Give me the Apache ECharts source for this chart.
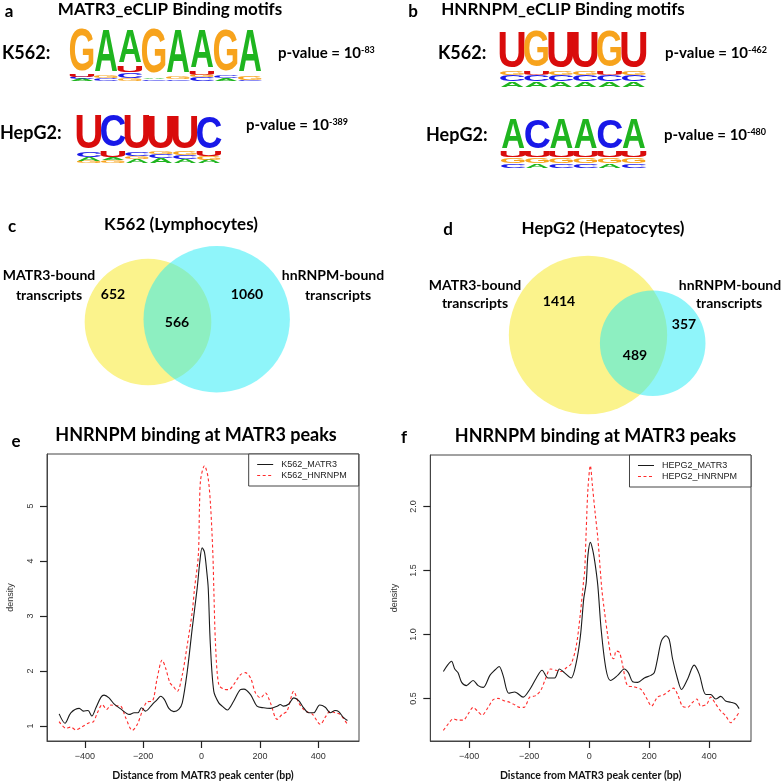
<!DOCTYPE html>
<html><head><meta charset="utf-8">
<script src="https://cdn.jsdelivr.net/npm/echarts@6/dist/echarts.min.js"></script>
<style>html,body{margin:0;padding:0;background:#fff}#c{width:782px;height:782px}</style>
</head><body><div id="c"></div><script>
// ---------- DATA ----------
// Sequence logos: each position = stack of [letter, height in bits], bottom to top
const motifMatr3K562 = [
  [['A',0.08],['C',0.08],['U',0.08],['G',1.76]],
  [['C',0.10],['G',0.13],['A',1.71]],
  [['G',0.10],['C',0.245],['U',0.27],['A',1.33]],
  [['C',0.06],['A',0.06],['G',1.88]],
  [['C',0.06],['G',0.10],['A',1.80]],
  [['C',0.14],['G',0.10],['U',0.135],['A',1.54]],
  [['A',0.10],['C',0.12],['G',1.74]],
  [['C',0.04],['G',0.15],['A',1.755]]
];
const motifMatr3HepG2 = [
  [['G',0.09],['A',0.17],['C',0.21],['U',1.47]],
  [['G',0.13],['A',0.13],['U',0.30],['C',1.38]],
  [['A',0.17],['G',0.13],['C',0.17],['U',1.47]],
  [['A',0.20],['C',0.17],['G',0.13],['U',1.42]],
  [['A',0.18],['C',0.17],['G',0.15],['U',1.42]],
  [['A',0.15],['G',0.15],['U',0.20],['C',1.42]]
];
const motifHnrnpmK562 = [
  [['A',0.20],['C',0.25],['G',0.15],['U',1.36]],
  [['A',0.20],['C',0.25],['U',0.15],['G',1.36]],
  [['A',0.20],['C',0.25],['G',0.15],['U',1.36]],
  [['A',0.20],['C',0.25],['G',0.15],['U',1.36]],
  [['A',0.20],['C',0.25],['U',0.15],['G',1.36]],
  [['A',0.20],['C',0.25],['G',0.15],['U',1.36]]
];
const motifHnrnpmHepG2 = [
  [['C',0.185],['G',0.245],['U',0.28],['A',1.29]],
  [['A',0.185],['G',0.245],['U',0.28],['C',1.29]],
  [['C',0.185],['G',0.245],['U',0.28],['A',1.29]],
  [['C',0.185],['G',0.245],['U',0.28],['A',1.29]],
  [['A',0.185],['G',0.245],['U',0.28],['C',1.29]],
  [['C',0.185],['G',0.245],['U',0.28],['A',1.29]]
];
const pvalExp = ['-83', '-389', '-462', '-480'];

// Venn counts: [MATR3 only, both, hnRNPM only]
const vennK562 = [652, 566, 1060];
const vennHepG2 = [1414, 489, 357];

// Density profiles [distance bp, density]
const k562Matr3 = [[-488,1.22],[-468,1.05],[-448,1.24],[-419,1.32],[-405,1.27],[-389,1.28],[-376,1.18],[-362,1.33],[-345,1.52],[-334,1.56],[-317,1.51],[-300,1.40],[-277,1.31],[-248,1.21],[-231,1.24],[-218,1.24],[-206,1.33],[-192,1.27],[-169,1.39],[-152,1.48],[-140,1.54],[-127,1.48],[-112,1.32],[-95,1.26],[-78,1.30],[-66,1.42],[-49,1.99],[-32,2.77],[-15,3.50],[-6,3.98],[2,4.24],[10,4.16],[18,3.80],[23,3.50],[30,2.50],[42,1.63],[59,1.42],[71,1.36],[88,1.29],[110,1.45],[133,1.66],[145,1.67],[168,1.57],[190,1.36],[213,1.33],[236,1.32],[259,1.36],[270,1.39],[281,1.36],[299,1.40],[316,1.51],[333,1.46],[350,1.33],[367,1.24],[384,1.24],[405,1.38],[424,1.34],[441,1.24],[458,1.28],[470,1.26],[487,1.15],[500,1.10]];
const k562Hnrnpm = [[-488,1.08],[-465,0.96],[-448,0.98],[-431,0.93],[-408,0.99],[-385,1.06],[-370,1.08],[-357,1.24],[-340,1.39],[-325,1.30],[-311,1.38],[-294,1.37],[-277,1.36],[-260,1.15],[-237,0.92],[-220,1.03],[-203,1.27],[-186,1.44],[-169,1.45],[-152,1.87],[-135,2.20],[-123,2.05],[-108,1.78],[-97,1.72],[-83,1.63],[-66,1.93],[-49,2.47],[-32,3.07],[-24,3.50],[-11,4.10],[-7,5.00],[-3,5.48],[10,5.73],[22,5.53],[31,5.00],[39,4.10],[42,3.50],[48,2.47],[59,1.75],[76,1.67],[93,1.66],[110,1.75],[133,1.93],[150,1.97],[168,1.87],[185,1.60],[202,1.51],[219,1.60],[236,1.42],[259,1.12],[276,1.21],[293,1.27],[316,1.63],[333,1.42],[356,1.27],[379,1.22],[407,1.03],[424,1.16],[441,1.27],[458,1.24],[475,1.21],[500,1.03]];
const hepg2Matr3 = [[-486,0.71],[-472,0.76],[-459,0.79],[-448,0.73],[-437,0.70],[-425,0.625],[-409,0.60],[-387,0.64],[-370,0.60],[-353,0.586],[-331,0.68],[-315,0.72],[-300,0.75],[-287,0.68],[-268,0.54],[-248,0.55],[-220,0.51],[-198,0.57],[-176,0.66],[-157,0.72],[-137,0.66],[-115,0.66],[-99,0.73],[-82,0.70],[-60,0.66],[-43,0.78],[-29,0.99],[-18,1.28],[-10,1.40],[-4,1.62],[4,1.72],[12,1.66],[20,1.55],[29,1.38],[40,1.04],[56,0.73],[71,0.64],[95,0.68],[117,0.73],[131,0.70],[145,0.63],[162,0.625],[184,0.66],[206,0.68],[217,0.70],[228,0.81],[241,0.95],[256,0.99],[267,0.96],[278,0.81],[295,0.65],[308,0.57],[328,0.65],[350,0.76],[367,0.69],[389,0.53],[405,0.53],[422,0.495],[439,0.516],[455,0.48],[472,0.47],[489,0.456],[500,0.42]];
const hepg2Hnrnpm = [[-486,0.25],[-470,0.30],[-453,0.34],[-437,0.33],[-420,0.33],[-403,0.38],[-387,0.43],[-372,0.40],[-357,0.37],[-337,0.43],[-320,0.49],[-304,0.50],[-281,0.48],[-265,0.47],[-248,0.45],[-232,0.43],[-217,0.43],[-198,0.51],[-180,0.52],[-162,0.56],[-146,0.65],[-129,0.73],[-110,0.72],[-93,0.71],[-76,0.74],[-60,0.77],[-43,0.91],[-29,1.17],[-18,1.43],[-15,1.49],[-10,1.80],[-4,2.14],[4,2.32],[11,2.16],[20,1.95],[29,1.75],[42,1.36],[50,1.20],[62,0.99],[73,0.83],[82,0.81],[90,0.87],[101,0.86],[112,0.755],[128,0.60],[151,0.59],[173,0.57],[193,0.495],[208,0.44],[228,0.51],[250,0.53],[267,0.56],[281,0.58],[295,0.53],[311,0.44],[328,0.43],[345,0.47],[359,0.495],[372,0.44],[392,0.455],[405,0.51],[422,0.455],[439,0.40],[455,0.365],[472,0.31],[485,0.34],[500,0.39]];

const xTicks = [-400, -200, 0, 200, 400];
const yTicksE = [1, 2, 3, 4, 5];
const yTicksF = [0.5, 1.0, 1.5, 2.0];

// ---------- STYLE / LAYOUT ----------
const LETTERS = ['A','C','G','U'];
const LCOL = {A:'#1fb51f', C:'#1818e8', G:'#f7a31c', U:'#d90c0c'};
const INK_W = {A:0.72, C:0.63, G:0.68, U:0.58};
const CAP_H = {A:0.716, C:0.74, G:0.74, U:0.728};
const FONT = 'Lato';
const RFONT = 'Liberation Sans';
const BLACK = '#1a1a1a', RED = '#ff2b2b';

const logoGrids = [
  {left:70, top:32, width:192, height:49},
  {left:77, top:116.7, width:144, height:46.8},
  {left:500, top:33.3, width:146, height:54},
  {left:501, top:121.7, width:145, height:46.6}
];
const logos = [motifMatr3K562, motifMatr3HepG2, motifHnrnpmK562, motifHnrnpmHepG2];

function stackItems(stacks){
  const out=[];
  stacks.forEach((col,i)=>{ let y=0; col.forEach(([L,h])=>{ out.push([i,y,y+h,LETTERS.indexOf(L)]); y+=h; }); });
  return out;
}
function renderLetter(params, api){
  const p0 = api.coord([api.value(0), api.value(1)]);
  const p1 = api.coord([api.value(0), api.value(2)]);
  const bw = api.size([1,0])[0];
  const L = LETTERS[api.value(3)];
  const h = p0[1]-p1[1];
  return {type:'text', x:p0[0], y:(p0[1]+p1[1])/2,
    scaleX: bw*0.98/(INK_W[L]*100), scaleY: h/(CAP_H[L]*100), silent:true,
    style:{text:L, fontSize:100, fontFamily:RFONT, fontWeight:'bold', fill:LCOL[L], align:'center', verticalAlign:'middle'}};
}

const grids=[], xAxes=[], yAxes=[], series=[];
logos.forEach((stk,k)=>{
  grids.push(Object.assign({show:false}, logoGrids[k]));
  xAxes.push({type:'category', gridIndex:k, data:stk.map((_,i)=>String(i+1)), show:false});
  yAxes.push({type:'value', gridIndex:k, min:0, max:2, show:false});
  series.push({type:'custom', xAxisIndex:k, yAxisIndex:k, renderItem:renderLetter, data:stackItems(stk), encode:{x:0,y:[1,2]}, silent:true});
});

// line chart grids
grids.push({show:true, left:47, top:454, width:312, height:290, borderColor:'#444', borderWidth:1, backgroundColor:'transparent', z:0});
grids.push({show:true, left:430.3, top:455, width:320.7, height:287.3, borderColor:'#444', borderWidth:1, backgroundColor:'transparent', z:0});
const minus = v => String(v).replace('-', '\u2212');
function xAx(gi){
  return {type:'value', gridIndex:gi, min:-529.6, max:539.6, position:'bottom', z:5,
    axisLine:{show:true, onZero:false, lineStyle:{color:'#444', width:1}}, splitLine:{show:false},
    axisTick:{show:true, inside:false, customValues:xTicks, length:7, lineStyle:{color:'#222', width:1.2}},
    axisLabel:{customValues:xTicks, formatter:minus, fontFamily:RFONT, fontSize:9, color:'#333', margin:11},
    name:'Distance from MATR3 peak center (bp)', nameLocation:'middle', nameGap:29,
    nameTextStyle:{fontFamily:FONT, fontWeight:'bold', fontSize:10.5, color:'#111'}};
}
function yAx(gi, min, max, ticks, fmt, gap){
  return {type:'value', gridIndex:gi, min:min, max:max, position:'left', z:5,
    axisLine:{show:true, onZero:false, lineStyle:{color:'#444', width:1}}, splitLine:{show:false},
    axisTick:{show:true, inside:false, customValues:ticks, length:7, lineStyle:{color:'#222', width:1.2}},
    axisLabel:{customValues:ticks, formatter:fmt, rotate:90, fontFamily:RFONT, fontSize:9, color:'#333', margin:12},
    name:'density', nameLocation:'middle', nameGap:gap, nameRotate:90,
    nameTextStyle:{fontFamily:RFONT, fontSize:9, color:'#333'}};
}
xAxes.push(xAx(4)); xAxes.push(xAx(5));
yAxes.push(yAx(4, 0.727, 5.943, yTicksE, v=>String(v), 32));
yAxes.push(yAx(5, 0.167, 2.403, yTicksF, v=>v.toFixed(1), 31));

const blackLine = {color:BLACK, width:1.1};
const redLine = {color:RED, width:1.1, type:[3,2.5]};
series.push({name:'K562_MATR3', type:'line', xAxisIndex:4, yAxisIndex:4, data:k562Matr3, symbol:'none', smooth:0.3, lineStyle:blackLine, itemStyle:{color:BLACK}, z:3});
series.push({name:'K562_HNRNPM', type:'line', xAxisIndex:4, yAxisIndex:4, data:k562Hnrnpm, symbol:'none', smooth:0.3, lineStyle:redLine, itemStyle:{color:RED}, z:2});
series.push({name:'HEPG2_MATR3', type:'line', xAxisIndex:5, yAxisIndex:5, data:hepg2Matr3, symbol:'none', smooth:0.3, lineStyle:blackLine, itemStyle:{color:BLACK}, z:3});
series.push({name:'HEPG2_HNRNPM', type:'line', xAxisIndex:5, yAxisIndex:5, data:hepg2Hnrnpm, symbol:'none', smooth:0.3, lineStyle:redLine, itemStyle:{color:RED}, z:2});

function legendCfg(names, right, top, padR){
  return {orient:'vertical', right:right, top:top, selectedMode:false,
    data:[
      {name:names[0], itemStyle:{color:'rgba(0,0,0,0)', borderWidth:0}, lineStyle:{color:BLACK, width:1, type:'solid'}},
      {name:names[1], itemStyle:{color:'rgba(0,0,0,0)', borderWidth:0}, lineStyle:{color:RED, width:1, type:[3,2.5]}}
    ],
    borderColor:'#444', borderWidth:1, borderRadius:0, backgroundColor:'#fff',
    padding:[6,padR,6,8], itemWidth:16, itemHeight:8, itemGap:2,
    textStyle:{fontFamily:RFONT, fontSize:9, color:'#222', padding:[0,0,0,3]}};
}

// ---------- TEXT & VENN ----------
const g = [];
function T(text, x, y, size, align, extra){
  g.push(Object.assign({type:'text', x:x, y:y, z:10, silent:true,
    style:{text:text, fontFamily:FONT, fontWeight:'bold', fontSize:size, fill:'#000', align:align||'center', verticalAlign:'middle'}}, extra||{}));
}
function P(exp, x, y){
  g.push({type:'text', x:x, y:y, z:10, silent:true, style:{text:'{a|p-value = 10}{s|'+exp+'}', align:'left', verticalAlign:'middle',
    rich:{a:{fontFamily:FONT, fontWeight:'bold', fontSize:15, fill:'#000'},
          s:{fontFamily:FONT, fontWeight:'bold', fontSize:9, fill:'#000', verticalAlign:'top'}}}});
}
// panel a
T('a', 9, 12, 17); T('MATR3_eCLIP Binding motifs', 170, 10, 17);
T('K562:', 2, 53, 18, 'left'); P(pvalExp[0], 278, 53);
T('HepG2:', 0, 133, 18, 'left'); P(pvalExp[1], 246, 125);
// panel b
T('b', 413, 12, 17); T('HNRNPM_eCLIP Binding motifs', 563, 10, 17);
T('K562:', 438, 53, 18, 'left'); P(pvalExp[2], 665, 53);
T('HepG2:', 426, 135, 18, 'left'); P(pvalExp[3], 664, 135);

// Venn circles: area proportional to set size
const VK = 1.815;
const YEL = '#fbf38c', CYA = 'rgba(31,235,245,0.5)';
function venn(counts, cy1, cy2){
  const r1 = VK*Math.sqrt(counts[0]+counts[1]);
  const r2 = VK*Math.sqrt(counts[1]+counts[2]);
  g.push({type:'circle', shape:{cx:cy1[0], cy:cy1[1], r:r1}, style:{fill:YEL}, z:1, silent:true});
  g.push({type:'circle', shape:{cx:cy2[0], cy:cy2[1], r:r2}, style:{fill:CYA}, z:2, silent:true});
}
venn(vennK562, [148, 322], [216.7, 319.3]);
venn(vennHepG2, [588, 335], [652.7, 343.3]);
// panel c
T('c', 12, 227, 17); T('K562 (Lymphocytes)', 181, 225, 17);
T('MATR3-bound', 49, 275, 14); T('transcripts', 49, 295, 14);
T(String(vennK562[0]), 113, 294, 14); T(String(vennK562[1]), 177, 322, 14); T(String(vennK562[2]), 247, 294, 14);
T('hnRNPM-bound', 333, 275, 14); T('transcripts', 338, 295, 14);
// panel d
T('d', 448, 230, 17); T('HepG2 (Hepatocytes)', 603, 229, 17);
T('MATR3-bound', 475, 285, 14); T('transcripts', 475, 303, 14);
T(String(vennHepG2[0]), 559, 301, 14); T(String(vennHepG2[1]), 635, 355, 14); T(String(vennHepG2[2]), 684, 324, 14);
T('hnRNPM-bound', 730, 285, 14); T('transcripts', 729, 303, 14);
// panels e,f
T('e', 16, 442, 17); T('HNRNPM binding at MATR3 peaks', 196, 435, 18);
T('f', 404, 438, 17); T('HNRNPM binding at MATR3 peaks', 595.5, 436, 18);

const chart = echarts.init(document.getElementById('c'), null, {renderer:'canvas'});
chart.setOption({
  animation:false, backgroundColor:'#fff',
  grid:grids, xAxis:xAxes, yAxis:yAxes, series:series,
  legend:[legendCfg(['K562_MATR3','K562_HNRNPM'], 423.3, 454, 12), legendCfg(['HEPG2_MATR3','HEPG2_HNRNPM'], 31, 455, 14)],
  graphic:g
});
</script></body></html>
